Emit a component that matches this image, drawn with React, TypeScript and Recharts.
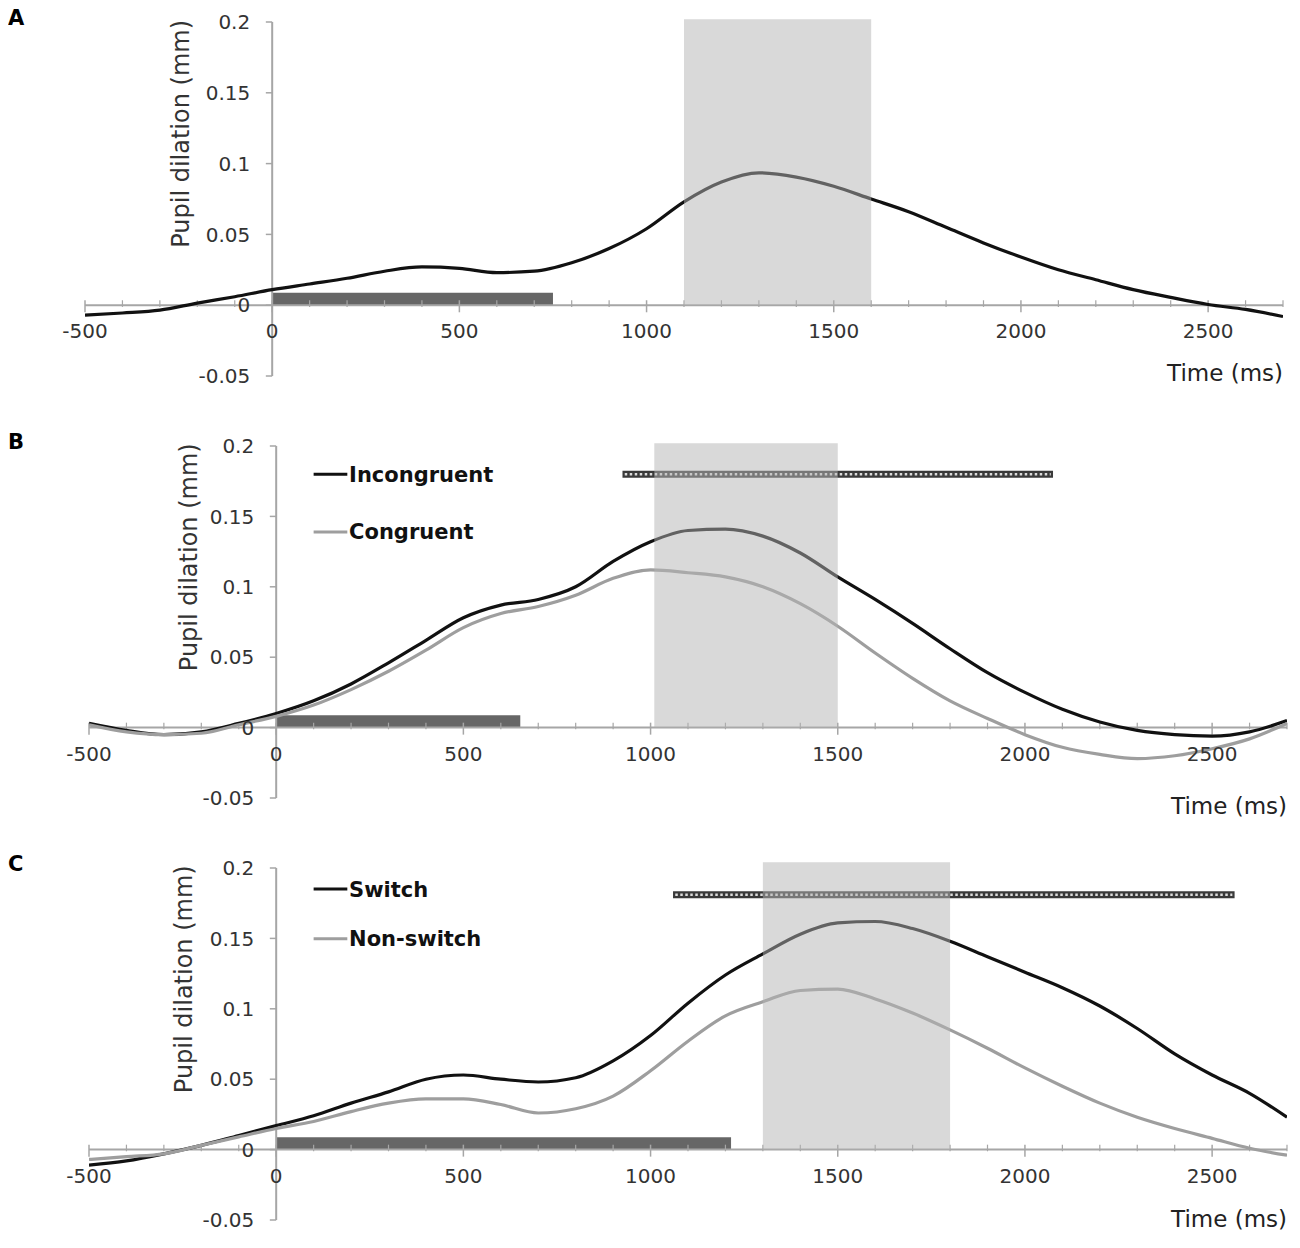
import React from "react";
import {
  LineChart,
  Line,
  XAxis,
  YAxis,
  ReferenceLine,
  ReferenceArea,
  ReferenceDot,
} from "recharts";

const FONT = "'DejaVu Sans', sans-serif";
const TEXT = "#333333";
const AXIS = "#a6a6a6";

const times = [
  -500, -400, -300, -200, -100, 0, 100, 200, 300, 400, 500, 600, 700, 800, 900, 1000, 1100,
  1200, 1300, 1400, 1500, 1600, 1700, 1800, 1900, 2000, 2100, 2200, 2300, 2400, 2500, 2600, 2700,
];

// panel A: all trials
const dilationA = [
  -0.007, -0.0055, -0.0035, 0.0015, 0.006, 0.011, 0.015, 0.019, 0.024, 0.027, 0.026, 0.023,
  0.024, 0.03, 0.04, 0.054, 0.073, 0.087, 0.0935, 0.0905, 0.084, 0.075, 0.066, 0.055, 0.044,
  0.034, 0.025, 0.018, 0.011, 0.0055, 0.0005, -0.003, -0.008,
];

// panel B
const incongruent = [
  0.003, -0.002, -0.005, -0.003, 0.003, 0.01, 0.019, 0.031, 0.046, 0.062, 0.078, 0.087, 0.091,
  0.1, 0.118, 0.132, 0.14, 0.141, 0.136, 0.124, 0.107, 0.091, 0.074, 0.056, 0.039, 0.025,
  0.013, 0.004, -0.002, -0.005, -0.006, -0.003, 0.005,
];
const congruent = [
  0.002, -0.003, -0.005, -0.004, 0.002, 0.008, 0.016, 0.027, 0.04, 0.055, 0.071, 0.081, 0.086,
  0.094, 0.106, 0.112, 0.11, 0.107, 0.1, 0.088, 0.072, 0.053, 0.035, 0.019, 0.0065, -0.005,
  -0.014, -0.019, -0.022, -0.02, -0.015, -0.008, 0.003,
];

// panel C
const switchTrials = [
  -0.011, -0.008, -0.003, 0.003, 0.01, 0.017, 0.024, 0.033, 0.041, 0.05, 0.053, 0.05, 0.048,
  0.051, 0.063, 0.081, 0.104, 0.124, 0.139, 0.153, 0.161, 0.162, 0.157, 0.148, 0.137, 0.126,
  0.115, 0.102, 0.086, 0.068, 0.053, 0.04, 0.023,
];
const nonSwitchTrials = [
  -0.007, -0.005, -0.003, 0.003, 0.009, 0.015, 0.02, 0.027, 0.033, 0.036, 0.036, 0.032, 0.026,
  0.029, 0.038, 0.056, 0.077, 0.095, 0.105, 0.113, 0.114, 0.107, 0.097, 0.085, 0.072, 0.058,
  0.045, 0.033, 0.023, 0.015, 0.008, 0.001, -0.004,
];

const yTicks = [-0.05, 0, 0.05, 0.1, 0.15, 0.2];
const yTickLabels = ["-0.05", "0", "0.05", "0.1", "0.15", "0.2"];
const xMajorTicks = [-500, 0, 500, 1000, 1500, 2000, 2500];
const xTickLabels = ["-500", "0", "500", "1000", "1500", "2000", "2500"];
const xMinorTicks = [
  -400, -300, -200, -100, 100, 200, 300, 400, 600, 700, 800, 900, 1100, 1200, 1300, 1400, 1600,
  1700, 1800, 1900, 2100, 2200, 2300, 2400, 2600, 2700,
];

type Series = { key: string; name: string; values: number[]; color: string };

type PanelProps = {
  letter: string;
  letterTop: number;
  series: Series[];
  shade: [number, number, number];
  cueEnd: number;
  sig?: [number, number, number];
  legendY?: number[];
  height: number;
  margin: { top: number; right: number; bottom: number; left: number };
  titleT: number;
  timeY: number;
};

function Panel({
  letter,
  letterTop,
  series,
  shade,
  cueEnd,
  sig,
  legendY,
  height,
  margin,
  titleT,
  timeY,
}: PanelProps) {
  const rows = times.map((t, i) => {
    const row: Record<string, number> = { t };
    series.forEach((s) => (row[s.key] = s.values[i]));
    return row;
  });

  return (
    <div style={{ position: "relative", width: 1292, height }}>
      <div
        style={{
          position: "absolute",
          left: 0,
          top: letterTop,
          fontFamily: FONT,
          fontWeight: "bold",
          fontSize: 21,
          lineHeight: "21px",
          color: "#000",
        }}
      >
        {letter}
      </div>
      <LineChart width={1292} height={height} data={rows} margin={margin}>
        <XAxis type="number" dataKey="t" domain={[-500, 2700]} hide allowDataOverflow />
        <YAxis type="number" domain={[-0.05, 0.2]} hide allowDataOverflow />

        {/* axes drawn through the origin */}
        <ReferenceLine y={0} stroke={AXIS} strokeWidth={2} />
        <ReferenceLine x={0} stroke={AXIS} strokeWidth={2} />
        {yTicks.map((v) => (
          <ReferenceLine
            key={"yt" + v}
            segment={[{ x: -17, y: v }, { x: 0, y: v }]}
            stroke={AXIS}
            strokeWidth={1.5}
          />
        ))}
        {xMajorTicks.map((t) => (
          <ReferenceLine
            key={"xt" + t}
            segment={[{ x: t, y: 0.0035 }, { x: t, y: -0.005 }]}
            stroke={AXIS}
            strokeWidth={1.5}
          />
        ))}
        {xMinorTicks.map((t) => (
          <ReferenceLine
            key={"xm" + t}
            segment={[{ x: t, y: 0.0035 }, { x: t, y: -0.0012 }]}
            stroke={AXIS}
            strokeWidth={1.2}
          />
        ))}

        {/* stimulus bar */}
        <ReferenceArea x1={0} x2={cueEnd} y1={0} y2={0.0088} fill="#666666" fillOpacity={1} stroke="none" />

        {/* significance bar */}
        {sig && (
          <ReferenceLine
            segment={[{ x: sig[0], y: sig[2] }, { x: sig[1], y: sig[2] }]}
            stroke="#3a3a3a"
            strokeWidth={7}
          />
        )}
        {sig && (
          <ReferenceLine
            segment={[{ x: sig[0] + 6, y: sig[2] }, { x: sig[1] - 6, y: sig[2] }]}
            stroke="#dcdcdc"
            strokeWidth={2.5}
            strokeDasharray="2.5 2.5"
          />
        )}

        {series.map((s) => (
          <Line
            key={s.key}
            type="monotone"
            dataKey={s.key}
            stroke={s.color}
            strokeWidth={3.2}
            dot={false}
            activeDot={false}
            isAnimationActive={false}
          />
        ))}

        <ReferenceArea
          x1={shade[0]}
          x2={shade[1]}
          y1={0}
          y2={shade[2]}
          fill="#b3b3b3"
          fillOpacity={0.5}
          stroke="none"
          ifOverflow="visible"
          zIndex={450}
        />

        {/* legend */}
        {legendY &&
          series.map((s, i) => (
            <ReferenceLine
              key={"lg" + s.key}
              segment={[{ x: 100, y: legendY[i] }, { x: 190, y: legendY[i] }]}
              stroke={s.color}
              strokeWidth={3}
            />
          ))}
        {legendY &&
          series.map((s, i) => (
            <ReferenceDot
              key={"lt" + s.key}
              x={192}
              y={legendY[i]}
              r={0}
              fill="none"
              stroke="none"
              label={{
                value: s.name,
                position: "right",
                offset: 1,
                fill: "#111",
                fontSize: 21,
                fontWeight: "bold",
                fontFamily: FONT,
              }}
            />
          ))}

        {/* tick labels */}
        {yTicks.map((v, i) => (
          <ReferenceDot
            key={"yl" + v}
            x={0}
            y={v}
            r={0}
            fill="none"
            stroke="none"
            label={{ value: yTickLabels[i], position: "left", offset: 22, fill: TEXT, fontSize: 20, fontFamily: FONT }}
          />
        ))}
        {xMajorTicks.map((t, i) => (
          <ReferenceDot
            key={"xl" + t}
            x={t}
            y={0}
            r={0}
            fill="none"
            stroke="none"
            label={{ value: xTickLabels[i], position: "bottom", offset: 19, fill: TEXT, fontSize: 20, fontFamily: FONT }}
          />
        ))}

        <ReferenceDot
          x={titleT}
          y={0.121}
          r={0}
          fill="none"
          stroke="none"
          label={{
            value: "Pupil dilation (mm)",
            position: "center",
            angle: -90,
            fill: TEXT,
            fontSize: 24,
            fontFamily: FONT,
          }}
        />
        <ReferenceDot
          x={2700}
          y={timeY}
          r={0}
          fill="none"
          stroke="none"
          ifOverflow="visible"
          label={{ value: "Time (ms)", position: "left", offset: 0, fill: "#222", fontSize: 23, fontFamily: FONT }}
        />
      </LineChart>
    </div>
  );
}

export default function App() {
  return (
    <div style={{ width: 1292 }}>
      <Panel
        letter="A"
        letterTop={0}
        series={[{ key: "all", name: "All", values: dilationA, color: "#111111" }]}
        shade={[1100, 1600, 0.202]}
        cueEnd={750}
        height={422}
        margin={{ top: 14, right: 17, bottom: 54, left: 77 }}
        titleT={-246}
        timeY={-0.048}
      />
      <Panel
        letter="B"
        letterTop={2}
        series={[
          { key: "inc", name: "Incongruent", values: incongruent, color: "#111111" },
          { key: "con", name: "Congruent", values: congruent, color: "#9e9e9e" },
        ]}
        shade={[1010, 1500, 0.202]}
        cueEnd={652}
        sig={[925, 2075, 0.18]}
        legendY={[0.18, 0.139]}
        height={422}
        margin={{ top: 16, right: 13, bottom: 54, left: 81 }}
        titleT={-235}
        timeY={-0.0557}
      />
      <Panel
        letter="C"
        letterTop={2}
        series={[
          { key: "sw", name: "Switch", values: switchTrials, color: "#111111" },
          { key: "ns", name: "Non-switch", values: nonSwitchTrials, color: "#9e9e9e" },
        ]}
        shade={[1300, 1800, 0.204]}
        cueEnd={1215}
        sig={[1060, 2560, 0.181]}
        legendY={[0.185, 0.1497]}
        height={396}
        margin={{ top: 16, right: 13, bottom: 28, left: 81 }}
        titleT={-248}
        timeY={-0.049}
      />
    </div>
  );
}
